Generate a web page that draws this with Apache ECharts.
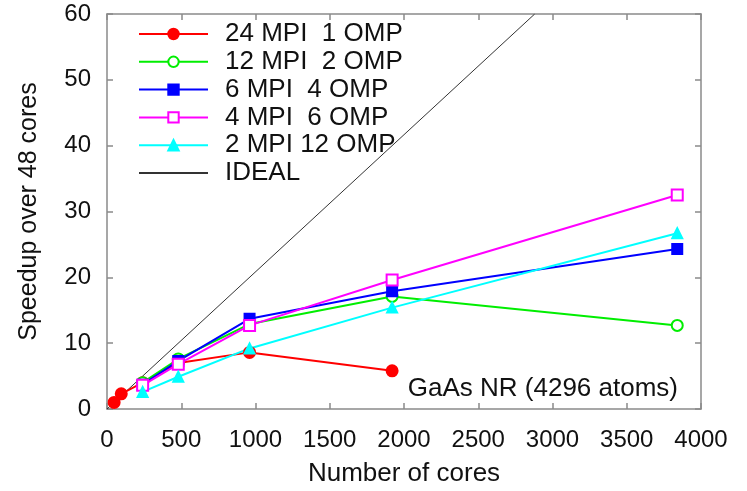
<!DOCTYPE html>
<html>
<head>
<meta charset="utf-8">
<script src="https://cdn.jsdelivr.net/npm/echarts@6/dist/echarts.min.js"></script>
<style>
  html, body { margin: 0; padding: 0; background: #fff; }
  #chart { width: 747px; height: 491px; }
</style>
</head>
<body>
<div id="chart"></div>
<script>
// Core counts and measured speedups (relative to 48 cores)
const coresRed = [48, 96, 240, 480, 960, 1920];
const speedRed = [1.0, 2.3, 4.0, 7.0, 8.6, 5.8];

const cores = [240, 480, 960, 1920, 3840];
const speedGreen = [4.0, 7.6, 12.9, 17.1, 12.7];
const speedBlue = [3.7, 7.3, 13.7, 17.9, 24.3];
const speedMagenta = [3.6, 6.8, 12.7, 19.6, 32.5];
const speedCyan = [2.6, 4.9, 9.2, 15.4, 26.7];

// Ideal scaling line: speedup = cores / 48
const idealCores = [0, 2880];
const idealSpeed = [0, 60];

const seriesNames = ['24 MPI  1 OMP', '12 MPI  2 OMP', '6 MPI  4 OMP', '4 MPI  6 OMP', '2 MPI 12 OMP', 'IDEAL'];
const xTicks = [0, 500, 1000, 1500, 2000, 2500, 3000, 3500, 4000];
const yTicks = [0, 10, 20, 30, 40, 50, 60];

const zip = (xs, ys) => xs.map((x, i) => [x, ys[i]]);

const FONT = 'Liberation Sans, Arial, Helvetica, sans-serif';
const frameColor = '#8a8a8a';
const textColor = '#111';

function lineSeries(name, xs, ys, color, symbol, size) {
  return {
    name: name,
    type: 'line',
    data: zip(xs, ys),
    symbol: symbol,
    symbolSize: size,
    showAllSymbol: true,
    lineStyle: { color: color, width: 2 },
    itemStyle: { color: color, borderColor: color, borderWidth: 2 },
    emphasis: { disabled: true },
    z: 3
  };
}

const chart = echarts.init(document.getElementById('chart'), null, { renderer: 'canvas' });

const axisCommon = {
  type: 'value',
  axisLine: { show: true, onZero: false, lineStyle: { color: frameColor, width: 1.5 } },
  axisTick: { show: true, inside: true, length: 6, lineStyle: { color: frameColor, width: 1.5 } },
  splitLine: { show: false }
};

chart.setOption({
  animation: false,
  backgroundColor: '#fff',
  grid: { left: 107, right: 46, top: 14, bottom: 82, containLabel: false, outerBoundsMode: 'none' },
  xAxis: [
    Object.assign({}, axisCommon, {
      min: xTicks[0], max: xTicks[xTicks.length - 1], interval: 500,
      position: 'bottom',
      name: 'Number of cores', nameLocation: 'middle', nameGap: 52,
      nameTextStyle: { fontFamily: FONT, fontSize: 26, color: textColor },
      axisLabel: { margin: 19, fontFamily: FONT, fontSize: 24, color: textColor,
                   formatter: v => String(v) }
    }),
    Object.assign({}, axisCommon, {
      min: xTicks[0], max: xTicks[xTicks.length - 1], interval: 500,
      position: 'top', axisLabel: { show: false }
    })
  ],
  yAxis: [
    Object.assign({}, axisCommon, {
      min: yTicks[0], max: yTicks[yTicks.length - 1], interval: 10,
      position: 'left',
      name: 'Speedup over 48 cores', nameLocation: 'middle', nameGap: 65,
      nameTextStyle: { fontFamily: FONT, fontSize: 25, color: textColor },
      axisLabel: { margin: 16, fontFamily: FONT, fontSize: 24, color: textColor }
    }),
    Object.assign({}, axisCommon, {
      min: yTicks[0], max: yTicks[yTicks.length - 1], interval: 10,
      position: 'right', axisLabel: { show: false }
    })
  ],
  legend: {
    orient: 'vertical',
    left: 133, top: 16,
    itemWidth: 69, itemHeight: 13, itemGap: 1.8,
    data: seriesNames.slice(0, 5).concat([{ name: seriesNames[5], itemStyle: { opacity: 0 } }]),
    textStyle: { fontFamily: FONT, fontSize: 26, lineHeight: 26, color: textColor, padding: [0, 0, 0, 12] },
    selectedMode: false
  },
  graphic: [{
    type: 'text',
    right: 69, top: 376,
    style: { text: 'GaAs NR (4296 atoms)', font: '26px ' + FONT, fill: textColor }
  }],
  series: [
    {
      name: seriesNames[5], type: 'line', data: zip(idealCores, idealSpeed),
      symbol: 'none', lineStyle: { color: '#333', width: 1 }, itemStyle: { color: '#333' },
      emphasis: { disabled: true }, z: 2
    },
    lineSeries(seriesNames[0], coresRed, speedRed, '#ff0000', 'circle', 11),
    lineSeries(seriesNames[1], cores, speedGreen, '#00ee00', 'emptyCircle', 11),
    lineSeries(seriesNames[2], cores, speedBlue, '#0000ff', 'rect', 10),
    lineSeries(seriesNames[3], cores, speedMagenta, '#ff00ff', 'emptyRect', 11),
    lineSeries(seriesNames[4], cores, speedCyan, '#00ffff', 'triangle', 10)
  ]
});
</script>
</body>
</html>
